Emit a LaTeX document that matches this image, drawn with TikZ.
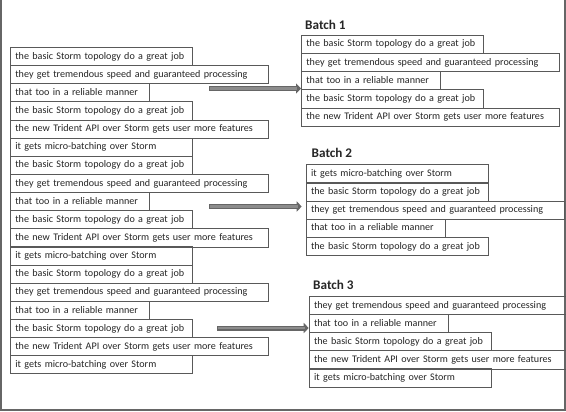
\documentclass[tikz,border=0pt]{standalone}
\usepackage{fontspec}
\setmainfont{Carlito}
\usetikzlibrary{arrows.meta}
\tikzset{
  row/.style={draw=black!65, line width=0.7bp, inner xsep=5bp, inner ysep=0pt,
    minimum height=18.2bp, text height=7.5bp, text depth=2bp, align=left,
    anchor=north west, font=\fontsize{10.1bp}{12bp}\selectfont, text=black!85},
  wS/.style={row, text width=172bp},
  wL/.style={row, text width=248bp},
  wT/.style={row, text width=129bp},
  title/.style={anchor=base west, inner sep=0pt, font=\fontsize{13.2bp}{15bp}\selectfont\bfseries, text=black!85},
  arrout/.style={line width=5bp, draw=black!60, -{Triangle[length=5bp,width=10bp]}},
  arrin/.style={line width=2.6bp, draw=black!45, shorten >=4bp, shorten <=0.9bp},
  frame/.style={draw=black!60, line width=2bp}
}
\newcommand{\tB}{the basic Storm topology do a great job}
\newcommand{\tT}{they get tremendous speed and guaranteed processing}
\newcommand{\tR}{that too in a reliable manner}
\newcommand{\tN}{the new Trident API over Storm gets user more features}
\newcommand{\tM}{it gets micro-batching over Storm}
\newcommand{\fit}[1]{\makebox[0pt][l]{#1}}
\begin{document}
\begin{tikzpicture}[x=1bp,y=-1bp]
\useasboundingbox (0,0) rectangle (566,411);
\fill[white] (0,0) rectangle (566,411);
\draw[frame] (1,0) -- (1,409.5) -- (565,409.5) -- (565,0);
% left column
\foreach \s/\t [count=\i] in {wS/\tB, wL/\tT, wT/\tR, wS/\tB, wL/\tN, wS/\tM,
                              wS/\tB, wL/\tT, wT/\tR, wS/\tB, wL/\tN, wS/\tM,
                              wS/\tB, wL/\tT, wT/\tR, wS/\tB, wL/\tN, wS/\tM}
  \node[\s] (L\i) at (10,{47+18.13*(\i-1)}) {\fit{\t}};
% batch 1
\node[title] (T1) at (305,29.5) {Batch 1};
\foreach \s/\t [count=\i] in {wS/\tB, wL/\tT, wT/\tR, wS/\tB, wL/\tN}
  \node[\s] (A\i) at (301,{34.5+18.3*(\i-1)}) {\fit{\t}};
% batch 2
\node[title] (T2) at (311.5,157.7) {Batch 2};
\foreach \s/\t [count=\i] in {wS/\tM, wS/\tB, wL/\tT, wT/\tR, wS/\tB}
  \node[\s] (B\i) at (305.7,{164.3+18.15*(\i-1)}) {\fit{\t}};
% batch 3
\node[title] (T3) at (313,289.3) {Batch 3};
\foreach \s/\t [count=\i] in {wL/\tT, wT/\tR, wS/\tB, wL/\tN, wS/\tM}
  \node[\s] (C\i) at (308.7,{296+18.1*(\i-1)}) {\fit{\t}};
% arrows
\coordinate (s1) at (209,88.5);
\coordinate (s2) at (209,206.5);
\coordinate (s3) at (217,328);
\draw[arrout] (s1) -- (s1 -| A3.west);
\draw[arrin] (s1) -- (s1 -| A3.west);
\draw[arrout, shorten >=4bp] (s2) -- (s2 -| B3.west);
\draw[arrin, shorten >=8bp] (s2) -- (s2 -| B3.west);
\draw[arrout] (s3) -- (s3 -| C2.west);
\draw[arrin] (s3) -- (s3 -| C2.west);
\end{tikzpicture}
\end{document}
